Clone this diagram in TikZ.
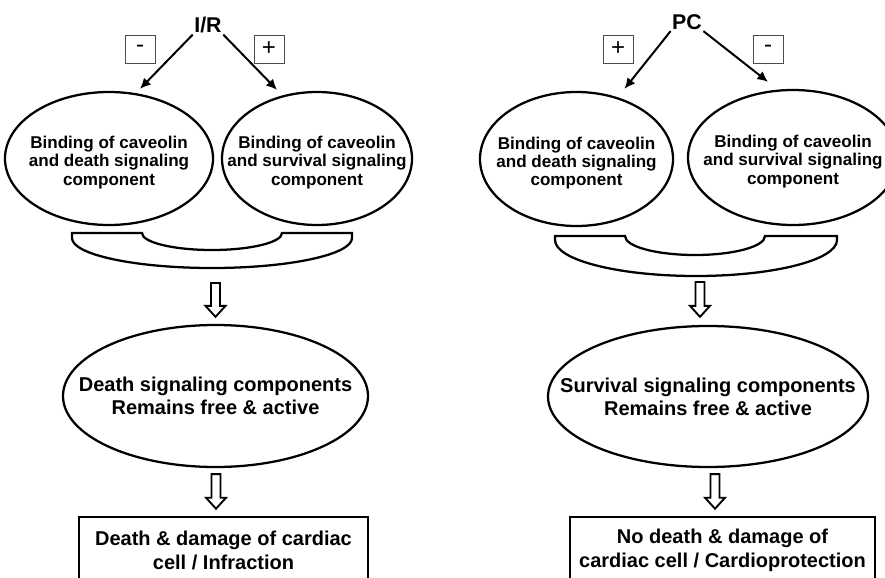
\documentclass[tikz,border=0pt]{standalone}
\usepackage{fontspec}
\setmainfont{Liberation Sans}
\usetikzlibrary{calc}
\usetikzlibrary{positioning}
\usetikzlibrary{shapes.geometric, arrows.meta}

\tikzset{
  bubble/.style={draw, ellipse, line width=1.7pt, inner sep=0pt},
  smalltxt/.style={align=center, yshift=-3pt, font=\bfseries\fontsize{12.8}{13.8}\selectfont},
  bigtxt/.style={align=center, font=\bfseries\fontsize{15}{17.3}\selectfont},
  resbox/.style={draw, line width=1.9pt, align=center, inner sep=0pt, font=\bfseries\fontsize{15}{18}\selectfont},
  signbox/.style={draw=black!70, line width=0.6pt, minimum width=22.5pt, minimum height=21pt, inner sep=0pt, font=\fontsize{18}{18}\selectfont},
  trig/.style={font=\bfseries\fontsize{16}{16}\selectfont, inner sep=1pt},
  sig/.style={line width=1.5pt, -{Latex[length=8pt,width=7.5pt]}},
  cupline/.style={line width=1.7pt},
  hollow/.style={line width=1.4pt, line join=miter},
}

% #1 tail, #2 tip (named coordinates)
\newcommand{\hollowarrow}[2]{%
  \draw[hollow] ($(#1 -| #2)+(-4.5,0)$) -- ($(#2)+(-4.5,-11)$) -- ($(#2)+(-10,-11)$) -- (#2)
    -- ($(#2)+(10,-11)$) -- ($(#2)+(4.5,-11)$) -- ($(#1 -| #2)+(4.5,0)$) -- cycle;}

\begin{document}
\begin{tikzpicture}[x=0.75pt,y=0.75pt,yscale=-1,xscale=1]
\useasboundingbox (0,0) rectangle (885,578);

%% ---------- left : I/R ----------
% Text Node
\node[trig] (ir) at (208,25) {I/R};
\node[signbox] (irMinus) at (140,49) {-};
\node[signbox] (irPlus) at (269,49) {+};

%Shape: Ellipses
\node[bubble, minimum width=156pt, minimum height=99.75pt,
  label={[smalltxt]center:Binding of caveolin\\and death signaling\\component}] (bindDL) at (109,158.5) {};
\node[bubble, minimum width=142.5pt, minimum height=99.75pt,
  label={[smalltxt]center:Binding of caveolin\\and survival signaling\\component}] (bindSL) at (317,158.5) {};

\draw[sig] (ir.south west) -- ($(bindDL.north)+(31,-2)$);
\draw[sig] (ir.south east) -- ($(bindSL.north)+(-40,-1)$);

%Shape: caveolin cup
\coordinate (cupL) at (212,268);
\draw[cupline] (72,233) -- (142,233) arc[start angle=180, end angle=0, x radius=70, y radius=17]
  -- (352,233) -- (352,238) arc[start angle=0, end angle=180, x radius=140, y radius=30] -- cycle;

\node[bubble, minimum width=228.75pt, minimum height=106.5pt,
  label={[bigtxt]center:Death signaling components\\Remains free \& active}] (deathE) at (215.5,396) {};

\node[resbox, minimum width=216.75pt, minimum height=50.25pt] (resL) at (223.5,550.5)
  {Death \& damage of cardiac\\cell / Infraction};

\coordinate (tailL1) at ($(cupL)+(0,15)$);
\coordinate (tipL1) at ($(deathE.north)+(0,-7)$);
\coordinate (tailL2) at ($(deathE.south)+(0,6)$);
\coordinate (tipL2) at ($(resL.north)+(-7.5,-7)$);
\hollowarrow{tailL1}{tipL1}
\hollowarrow{tailL2}{tipL2}

%% ---------- right : PC ----------
% Text Node
\node[trig] (pc) at (687,22) {PC};
\node[signbox] (pcPlus) at (618,49) {+};
\node[signbox] (pcMinus) at (768,49) {-};

%Shape: Ellipses
\node[bubble, minimum width=144.75pt, minimum height=100.5pt,
  label={[smalltxt]center:Binding of caveolin\\and death signaling\\component}] (bindDR) at (576.5,159) {};
\node[bubble, minimum width=157.5pt, minimum height=101.25pt,
  label={[smalltxt]center:Binding of caveolin\\and survival signaling\\component}] (bindSR) at (793,157.5) {};

\draw[sig] (pc.south west) -- ($(bindDR.north)+(48,-2)$);
\draw[sig] (pc.south east) -- ($(bindSR.north)+(-25,-7)$);

%Shape: caveolin cup
\coordinate (cupR) at (696,276);
\draw[cupline] (555,236) -- (625,236) arc[start angle=180, end angle=0, x radius=70, y radius=19]
  -- (837,236) -- (837,240) arc[start angle=0, end angle=180, x radius=141, y radius=36] -- cycle;

\node[bubble, minimum width=240pt, minimum height=105.75pt,
  label={[bigtxt]center:Survival signaling components\\Remains free \& active}] (survE) at (708,396.5) {};

\node[resbox, minimum width=228.75pt, minimum height=50.25pt] (resR) at (722.5,550.5)
  {No death \& damage of\\cardiac cell / Cardioprotection};

\coordinate (tailR1) at ($(cupR)+(0,6)$);
\coordinate (tipR1) at ($(survE.north)+(-8,-8)$);
\coordinate (tailR2) at ($(survE.south)+(0,6)$);
\coordinate (tipR2) at ($(resR.north)+(-7.5,-7)$);
\hollowarrow{tailR1}{tipR1}
\hollowarrow{tailR2}{tipR2}

\end{tikzpicture}
\end{document}
